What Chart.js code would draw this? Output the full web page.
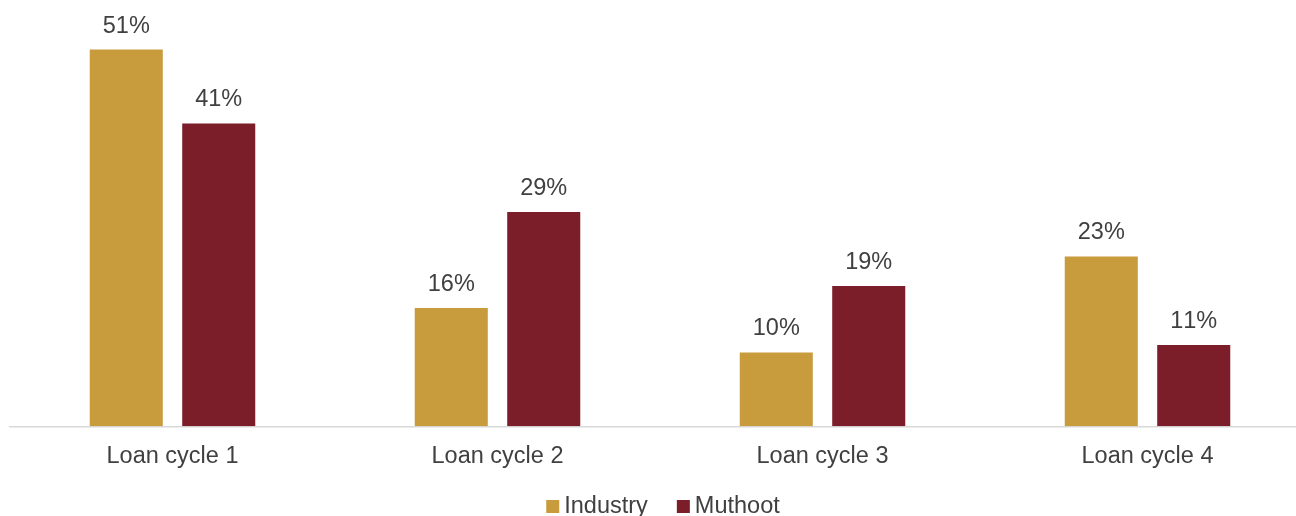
<!DOCTYPE html>
<html>
<head>
<meta charset="utf-8">
<script src="https://cdn.jsdelivr.net/npm/chart.js@4.4.1/dist/chart.umd.min.js"></script>
<style>
  html, body { margin: 0; padding: 0; background: #ffffff; overflow: hidden; }
  #wrap { width: 1310px; height: 516px; position: relative; }
</style>
</head>
<body>
<div id="wrap"><canvas id="chart"></canvas></div>
<script>
const categories = ['Loan cycle 1', 'Loan cycle 2', 'Loan cycle 3', 'Loan cycle 4'];
const industry = [51, 16, 10, 23];
const muthoot = [41, 29, 19, 11];
const seriesNames = ['Industry', 'Muthoot'];
const seriesColors = ['#C89B3C', '#7B1E2A'];

const FONT = 'Liberation Sans, Arial, sans-serif';
const FONT_SIZE = 23.5;
const TEXT = '#404040';

// Percentage labels above each bar
const valueLabels = {
  id: 'valueLabels',
  afterDatasetsDraw(chart) {
    const ctx = chart.ctx;
    ctx.save();
    ctx.font = FONT_SIZE + 'px ' + FONT;
    ctx.fontKerning = 'none';
    ctx.fillStyle = TEXT;
    ctx.textAlign = 'center';
    ctx.textBaseline = 'alphabetic';
    chart.data.datasets.forEach((ds, i) => {
      chart.getDatasetMeta(i).data.forEach((bar, j) => {
        ctx.fillText(ds.data[j] + '%', bar.x, bar.y - 17);
      });
    });
    ctx.restore();
  }
};

// Compact legend centred under the plot
const bottomLegend = {
  id: 'bottomLegend',
  afterDraw(chart) {
    const ctx = chart.ctx;
    const area = chart.chartArea;
    ctx.save();
    ctx.font = FONT_SIZE + 'px ' + FONT;
    ctx.textBaseline = 'alphabetic';
    const box = 13, gap = 5, spacing = 29;
    const items = chart.data.datasets.map(ds => ({
      text: ds.label, color: ds.backgroundColor, w: ctx.measureText(ds.label).width
    }));
    const total = items.reduce((s, it) => s + box + gap + it.w, 0) + spacing * (items.length - 1);
    let x = (area.left + area.right) / 2 + 3 - total / 2;
    const baseY = 513;
    items.forEach(it => {
      ctx.fillStyle = it.color;
      ctx.fillRect(x, baseY - 13, box, box);
      ctx.fillStyle = TEXT;
      ctx.fillText(it.text, x + box + gap, baseY);
      x += box + gap + it.w + spacing;
    });
    ctx.restore();
  }
};

new Chart(document.getElementById('chart'), {
  type: 'bar',
  data: {
    labels: categories,
    datasets: [
      { label: seriesNames[0], data: industry, backgroundColor: seriesColors[0] },
      { label: seriesNames[1], data: muthoot, backgroundColor: seriesColors[1] }
    ]
  },
  options: {
    responsive: true,
    maintainAspectRatio: false,
    animation: false,
    categoryPercentage: 0.569,
    barPercentage: 0.79,
    layout: { padding: { top: 20, left: 10, right: 0, bottom: 29.5 } },
    plugins: {
      legend: { display: false },
      tooltip: { enabled: false }
    },
    scales: {
      x: {
        grid: { display: false, drawTicks: false },
        border: { display: true, color: '#D9D9D9', width: 1.5 },
        ticks: { color: TEXT, font: { family: FONT, size: FONT_SIZE }, padding: 16 }
      },
      y: {
        display: false,
        min: 0,
        max: 55
      }
    }
  },
  plugins: [valueLabels, bottomLegend]
});
</script>
</body>
</html>
